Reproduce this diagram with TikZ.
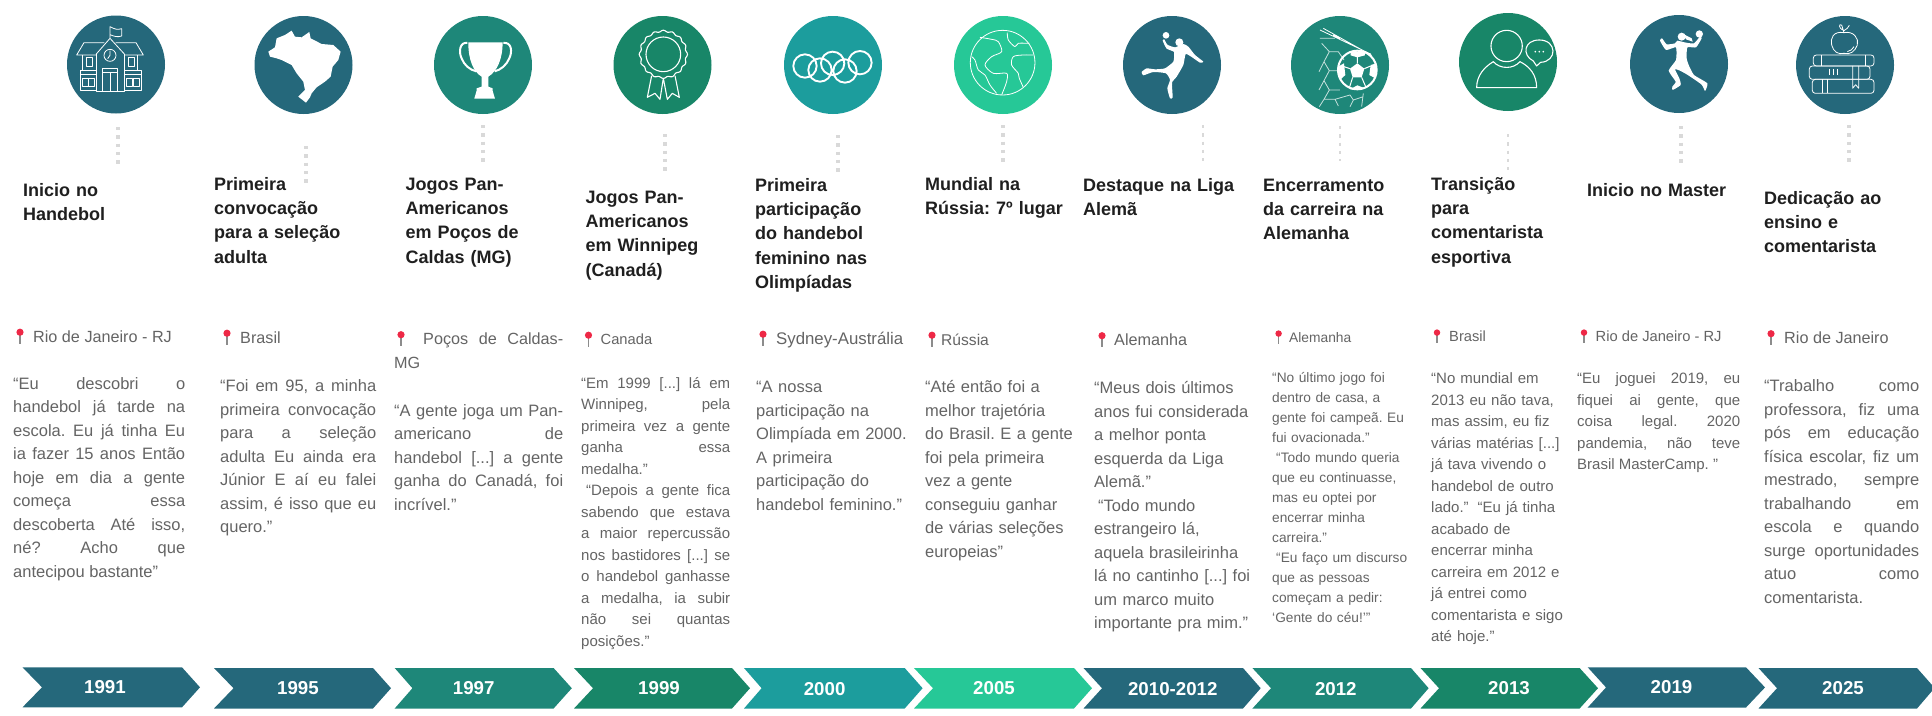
\documentclass[tikz,border=0pt]{standalone}
\usepackage{fontspec}
\setmainfont{Liberation Sans}
\frenchspacing
\usetikzlibrary{arrows,shapes,calc}
\definecolor{petrol}{RGB}{37,104,123}
\definecolor{teal1}{RGB}{30,135,121}
\definecolor{gruen1}{RGB}{24,134,104}
\definecolor{teal2}{RGB}{28,157,157}
\definecolor{mint}{RGB}{38,200,151}
\definecolor{bodygrey}{RGB}{100,100,100}
\definecolor{pinred}{RGB}{238,40,70}
\tikzset{
  disc/.style={circle,minimum size=98pt,inner sep=0pt},
  dotline/.style={draw=black!15,line width=3.4pt,dash pattern=on 3.4pt off 4.9pt},
  heading/.style={anchor=base west,inner sep=0pt,text width=170pt,align=left,text=black!88,font=\fontsize{18}{24.4}\selectfont\bfseries},
  place/.style={anchor=base west,inner sep=0pt,text=bodygrey,font=\fontsize{16.2}{24}\selectfont},
  placesm/.style={place,font=\fontsize{14.7}{24}\selectfont},
  placetiny/.style={place,font=\fontsize{13.8}{24}\selectfont},
  body/.style={anchor=base west,inner sep=0pt,text=bodygrey,font=\fontsize{16.5}{23.5}\selectfont,execute at begin node={\sloppy\hyphenpenalty=10000\relax}},
  bodysm/.style={body,font=\fontsize{15}{21.5}\selectfont},
  bodytiny/.style={body,font=\fontsize{13.7}{20}\selectfont},
  year/.style={inner sep=0pt,text=white,font=\fontsize{18.7}{20}\selectfont\bfseries},
  ln/.style={draw=white,line width=0.8pt,line join=round},
  mappin/.pic={\draw[black!45,line width=1.2pt] (0,-3) -- (0,7.5); \fill[pinred] (0,-3.8) circle (3.6);}
}
\begin{document}
\begin{tikzpicture}[x=1pt,y=-1pt]
\useasboundingbox (0,0) rectangle (1932,715);
%
% discs:
\node[disc,fill=petrol] (icon1991) at (116,64.5) {};
\node[disc,fill=petrol] (icon1995) at (303.5,65) {};
\node[disc,fill=teal1] (icon1997) at (483,65) {};
\node[disc,fill=gruen1] (icon1999) at (662.5,65) {};
\node[disc,fill=teal2] (icon2000) at (833,65) {};
\node[disc,fill=mint] (icon2005) at (1003,65) {};
\node[disc,fill=petrol] (icon2010) at (1172,65) {};
\node[disc,fill=teal1] (icon2012) at (1340,65) {};
\node[disc,fill=gruen1] (icon2013) at (1508,62) {};
\node[disc,fill=petrol] (icon2019) at (1679,64) {};
\node[disc,fill=petrol] (icon2025) at (1845,65) {};
%
% school, map, trophy:
\begin{scope}[shift={(60,10)},x=0.3333pt,y=-0.3333pt]
\draw[ln] (150,85) -- (150,50) .. controls (165,58) and (172,60) .. (185,56) -- (185,78) .. controls (172,82) and (165,80) .. (150,74);
\draw[ln] (108,133) -- (150,85) -- (194,133);
\draw[ln] (133,98) -- (72,98) -- (50,135) -- (108,135) (167,98) -- (228,98) -- (250,135) -- (194,135);
\draw[ln] (108,133) -- (108,243) -- (194,243) -- (194,133);
\draw[ln] (150,136) circle (18) (150,136) -- (150,122) (150,136) -- (143,146);
\draw[ln] (68,135) -- (68,180) (232,135) -- (232,180);
\draw[ln] (60,180) rectangle (108,240) (60,192) -- (108,192) (194,180) rectangle (243,240) (194,192) -- (243,192);
\draw[ln] (80,143) rectangle (97,170) (204,143) rectangle (222,170);
\draw[ln] (66,206) rectangle (84,230) (86,206) rectangle (104,230) (199,206) rectangle (217,230) (219,206) rectangle (237,230);
\draw[ln] (128,176) rectangle (172,243) (128,188) -- (172,188) (150,188) -- (150,243);
\fill[white,line join=round] (625,125) -- (645,112) -- (650,85) -- (675,75) -- (695,62) -- (705,80) -- (725,82) -- (748,66) -- (752,85) -- (785,102) -- (820,105) -- (842,125) -- (835,150) -- (818,170) -- (812,200) -- (795,215) -- (770,232) -- (755,250) -- (750,262) -- (738,278) -- (715,260) -- (735,240) -- (730,215) -- (710,190) -- (695,165) -- (665,150) -- (650,145) -- (630,140) -- cycle;
\fill[white] (1225,97) -- (1328,97) .. controls (1328,150) and (1310,185) .. (1285,200) -- (1285,230) -- (1298,235) -- (1298,242) -- (1305,266) -- (1243,266) -- (1250,242) -- (1250,235) -- (1265,230) -- (1265,200) .. controls (1240,185) and (1225,150) .. (1225,97) -- cycle;
\draw[white,line width=2pt] (1222,99) .. controls (1200,95) and (1195,125) .. (1205,145) .. controls (1212,165) and (1230,180) .. (1249,184);
\draw[white,line width=2pt] (1330,99) .. controls (1355,95) and (1358,125) .. (1348,145) .. controls (1340,165) and (1322,180) .. (1304,184);
\end{scope}
%
% rosette, rings, globe:
\begin{scope}[shift={(610,10)},x=0.3333pt,y=-0.3333pt]
\draw[white,line width=1.1pt] plot[smooth,domain=0:360,samples=97] ({160+(70+2.5*cos(16*\x))*cos(\x)},{133+(70+2.5*cos(16*\x))*sin(\x)});
\draw[white,line width=1.1pt] (160,133) circle (52);
\draw[white,line width=1.1pt,line join=round] (125,197) -- (112,262) -- (135,250) -- (150,268) -- (160,205) -- (172,268) -- (187,250) -- (208,262) -- (195,197);
\draw[white,line width=1.9pt] (585,168) circle (35) (668,160) circle (35) (750,158) circle (35) (630,180) circle (35) (705,183) circle (35);
\draw[ln] (1178,158) circle (97);
\draw[ln] plot[smooth] coordinates {(1110,82) (1145,88) (1165,95) (1175,125) (1145,140) (1125,165) (1150,190) (1190,190) (1190,215) (1175,255)};
\draw[ln] plot[smooth] coordinates {(1085,140) (1095,150) (1105,180) (1125,195) (1140,225) (1160,250)};
\draw[ln] plot[smooth] coordinates {(1192,68) (1195,90) (1215,110) (1225,100) (1258,100)};
\draw[ln] plot[smooth] coordinates {(1270,135) (1240,135) (1210,140) (1205,165) (1225,190) (1228,205) (1240,232)};
\end{scope}
%
% jumper, ball and net, speaker:
\begin{scope}[shift={(1120,10)},x=0.3333pt,y=-0.3333pt]
\fill[white] (138,76) circle (10) (178,97) circle (12);
\fill[white,line join=round] plot[smooth cycle,tension=0.3] coordinates {(133,88) (142,104) (165,112) (190,102) (205,110) (225,135) (250,155) (240,158) (215,141) (197,132) (190,165) (170,200) (156,218) (158,262) (150,265) (142,235) (150,210) (138,190) (100,186) (70,196) (65,186) (80,175) (105,178) (135,175) (160,155) (162,126) (140,116) (128,92)};
\begin{scope}[opacity=0.75]
\draw[white,line width=0.8pt,line join=round] (605,100) -- (628,125) -- (612,155) -- (628,182) -- (612,212) -- (628,240) -- (612,268) -- (645,268) -- (655,288) (628,125) -- (655,125) -- (672,150) (612,155) -- (597,185) (628,182) -- (660,182) (628,240) -- (660,240) (612,212) -- (597,240) (612,268) -- (598,290) (645,268) -- (690,255) -- (700,270) -- (690,290) (730,250) -- (725,290) (700,270) -- (730,260) (600,85) -- (645,85);
\end{scope}
\draw[white,line width=0.8pt] (600,60) -- (752,132) (610,55) -- (755,136) (640,75) -- (660,85);
\draw[white,line width=2pt] (712,180) circle (58);
\fill[white] (712,160) -- (733,176) -- (725,202) -- (698,202) -- (690,176) -- cycle;
\fill[white] (692,124) -- (735,124) -- (735,136) -- (712,142) -- (692,136) -- cycle (654,170) -- (672,160) -- (676,195) -- (660,210) -- cycle (770,160) -- (752,165) -- (748,195) -- (766,205) -- cycle (690,238) -- (712,226) -- (735,235) -- (712,240) -- cycle;
\draw[white,line width=1pt] (712,160) -- (712,140) (733,176) -- (752,168) (725,202) -- (738,232) (698,202) -- (688,234) (690,176) -- (672,170);
\draw[white,line width=1.1pt] (1160,108) circle (47);
\draw[white,line width=1.1pt,line join=round] (1070,233) .. controls (1070,195) and (1095,170) .. (1120,155) .. controls (1140,178) and (1180,178) .. (1200,155) .. controls (1230,170) and (1250,195) .. (1250,233) -- cycle;
\draw[white,line width=1.1pt,line join=round] (1240,153) .. controls (1205,135) and (1212,90) .. (1258,90) .. controls (1312,90) and (1312,155) .. (1262,157) -- (1250,168) -- cycle;
\fill[white] (1246,125) circle (2.8) (1258,125) circle (2.8) (1270,125) circle (2.8);
\end{scope}
%
% runner, apple and books:
\begin{scope}[shift={(1620,10)},x=0.3333pt,y=-0.3333pt]
\fill[white] (238,72) circle (11) (185,80) circle (12);
\fill[white,line join=round] (190,72) -- (215,85) -- (218,95) -- (198,88) -- cycle;
\fill[white,line join=round] plot[smooth cycle,tension=0.3] coordinates {(172,92) (198,98) (222,100) (240,80) (245,85) (228,112) (202,112) (200,145) (206,165) (222,195) (262,220) (255,243) (245,224) (205,196) (180,182) (165,178) (178,205) (182,225) (158,240) (157,230) (167,215) (146,182) (168,150) (168,112) (138,120) (120,92) (126,85) (140,103) (165,100)};
\draw[ln] (672,68) .. controls (640,62) and (630,85) .. (635,105) .. controls (640,125) and (655,135) .. (672,130) .. controls (690,135) and (705,125) .. (712,105) .. controls (718,85) and (700,62) .. (672,68) -- cycle;
\draw[ln] (672,68) -- (665,45) (665,45) .. controls (655,40) and (657,55) .. (668,60) (672,62) .. controls (680,58) and (685,52) .. (688,46);
\draw[ln] (682,125) .. controls (692,122) and (698,118) .. (702,110);
\draw[ln,rounded corners=3pt] (670,135) -- (580,135) -- (580,168) -- (762,168) -- (762,135) -- (670,135);
\draw[ln,rounded corners=3pt] (650,168) -- (568,168) -- (568,208) -- (750,208) -- (750,168) -- (650,168);
\draw[ln,rounded corners=3pt] (650,208) -- (577,208) -- (577,250) -- (762,250) -- (762,208) -- (650,208);
\draw[ln] (605,135) -- (605,168) (735,135) -- (735,168) (607,208) -- (607,250) (622,208) -- (622,250) (627,176) -- (627,196) (640,176) -- (640,196) (653,176) -- (653,196);
\draw[ln] (698,168) -- (698,235) -- (707,224) -- (716,235) -- (716,168);
\end{scope}
%
% dots:
\coordinate (dots1991a) at (118,127); \coordinate (dots1991b) at (118,164);
\coordinate (dots1995a) at (306,146); \coordinate (dots1995b) at (306,183);
\coordinate (dots1997a) at (483,125); \coordinate (dots1997b) at (483,163);
\coordinate (dots1999a) at (665,134); \coordinate (dots1999b) at (665,172);
\coordinate (dots2000a) at (838,135); \coordinate (dots2000b) at (838,172);
\coordinate (dots2005a) at (1003,125); \coordinate (dots2005b) at (1003,163);
\coordinate (dots2010a) at (1203,125); \coordinate (dots2010b) at (1203,161);
\coordinate (dots2012a) at (1340,126); \coordinate (dots2012b) at (1340,161);
\coordinate (dots2013a) at (1508,134); \coordinate (dots2013b) at (1508,170);
\coordinate (dots2019a) at (1681,126); \coordinate (dots2019b) at (1681,164);
\coordinate (dots2025a) at (1849,125); \coordinate (dots2025b) at (1849,163);
\draw[dotline] (dots1991a) -- (dots1991b);
\draw[dotline] (dots1995a) -- (dots1995b);
\draw[dotline] (dots1997a) -- (dots1997b);
\draw[dotline] (dots1999a) -- (dots1999b);
\draw[dotline] (dots2000a) -- (dots2000b);
\draw[dotline] (dots2005a) -- (dots2005b);
\draw[dotline,line width=2.8pt] (dots2010a) -- (dots2010b);
\draw[dotline,line width=2.8pt] (dots2012a) -- (dots2012b);
\draw[dotline,line width=2.8pt] (dots2013a) -- (dots2013b);
\draw[dotline] (dots2019a) -- (dots2019b);
\draw[dotline] (dots2025a) -- (dots2025b);
%
% headings:
\node[heading] (head1991) at (23,196) {Inicio no\\Handebol};
\node[heading] (head1995) at (214,190) {Primeira\\convocação\\para a seleção\\adulta};
\node[heading] (head1997) at (405.5,190) {Jogos Pan-\\Americanos\\em Poços de\\Caldas (MG)};
\node[heading] (head1999) at (585.4,203) {Jogos Pan-\\Americanos\\em Winnipeg\\(Canadá)};
\node[heading] (head2000) at (755,191) {Primeira\\participação\\do handebol\\feminino nas\\Olimpíadas};
\node[heading] (head2005) at (925,190) {Mundial na\\Rússia: 7º lugar};
\node[heading] (head2010) at (1083,191) {Destaque na Liga\\Alemã};
\node[heading] (head2012) at (1263,191) {Encerramento\\da carreira na\\Alemanha};
\node[heading] (head2013) at (1431,190) {Transição\\para\\comentarista\\esportiva};
\node[heading] (head2019) at (1587,196) {Inicio no Master};
\node[heading] (head2025) at (1764,204) {Dedicação ao\\ensino e\\comentarista};
%
% places:
\pic at (20,336) {mappin};
\node[place] (place1991) at (33,342) {Rio de Janeiro - RJ};
\pic at (227,337) {mappin};
\node[place] (place1995) at (240,343) {Brasil};
\pic at (401,338.5) {mappin};
\node[place,text width=169pt,align=justify,execute at begin node={\sloppy}] (place1997) at (394,344.5) {\hspace*{29pt}Poços de Caldas-\linebreak MG};
\pic at (588.5,339) {mappin};
\node[placesm] (place1999) at (600.5,344.5) {Canada};
\pic at (763,338) {mappin};
\node[place,font=\fontsize{16.8}{24}\selectfont] (place2000) at (776,344) {Sydney-Austrália};
\pic at (932,339) {mappin};
\node[place,font=\fontsize{15.6}{24}\selectfont] (place2005) at (941,345) {Rússia};
\pic at (1102,339.5) {mappin};
\node[place] (place2010) at (1114,345.5) {Alemanha};
\pic[scale=0.9] at (1278.6,337) {mappin};
\node[placetiny] (place2012) at (1289,342) {Alemanha};
\pic[scale=0.9] at (1437,336) {mappin};
\node[placesm] (place2013) at (1449,341.5) {Brasil};
\pic[scale=0.9] at (1584,336) {mappin};
\node[placesm] (place2019) at (1595.5,341.5) {Rio de Janeiro - RJ};
\pic at (1771,337.5) {mappin};
\node[place] (place2025) at (1784,343.5) {Rio de Janeiro};
%
% quotes:
\node[body,text width=172pt,align=justify] (text1991) at (13,389) {“Eu descobri o\linebreak handebol já tarde na\linebreak escola. Eu já tinha Eu\linebreak ia fazer 15 anos Então\linebreak hoje em dia a gente\linebreak começa essa\linebreak descoberta Até isso,\linebreak né? Acho que\linebreak antecipou bastante”};
\node[body,text width=156pt,align=justify] (text1995) at (220,391.5) {“Foi em 95, a minha\linebreak primeira convocação\linebreak para a seleção\linebreak adulta Eu ainda era\linebreak Júnior E aí eu falei\linebreak assim, é isso que eu\linebreak quero.”};
\node[body,text width=169pt,align=justify] (text1997) at (394,416) {“A gente joga um Pan-\linebreak americano de\linebreak handebol [...] a gente\linebreak ganha do Canadá, foi\linebreak incrível.”};
\node[bodysm,text width=149pt,align=justify] (text1999) at (581,388) {“Em 1999 [...] lá em\linebreak Winnipeg, pela\linebreak primeira vez a gente\linebreak ganha essa\linebreak medalha.”\\\hspace*{5pt}“Depois a gente fica\linebreak sabendo que estava\linebreak a maior repercussão\linebreak nos bastidores [...] se\linebreak o handebol ganhasse\linebreak a medalha, ia subir\linebreak não sei quantas\linebreak posições.”};
\node[body,text width=170pt,align=left] (text2000) at (756,392.5) {“A nossa\\participação na\\Olimpíada em 2000.\\A primeira\\participação do\\handebol feminino.”};
\node[body,text width=170pt,align=left] (text2005) at (925,392.5) {“Até então foi a\\melhor trajetória\\do Brasil. E a gente\\foi pela primeira\\vez a gente\\conseguiu ganhar\\de várias seleções\\europeias”};
\node[body,text width=170pt,align=left] (text2010) at (1094,393.5) {“Meus dois últimos\\anos fui considerada\\a melhor ponta\\esquerda da Liga\\Alemã.”\\\hspace*{4pt}“Todo mundo\\estrangeiro lá,\\aquela brasileirinha\\lá no cantinho [...] foi\\um marco muito\\importante pra mim.”};
\node[bodytiny,text width=150pt,align=left] (text2012) at (1272,382.5) {“No último jogo foi\\dentro de casa, a\\gente foi campeã. Eu\\fui ovacionada.”\\\hspace*{4pt}“Todo mundo queria\\que eu continuasse,\\mas eu optei por\\encerrar minha\\carreira.”\\\hspace*{4pt}“Eu faço um discurso\\que as pessoas\\começam a pedir:\\‘Gente do céu!’”};
\node[bodysm,text width=150pt,align=left] (text2013) at (1431,383.5) {“No mundial em\\2013 eu não tava,\\mas assim, eu fiz\\várias matérias [...]\\já tava vivendo o\\handebol de outro\\lado.”\hspace*{4pt} “Eu já tinha\\acabado de\\encerrar minha\\carreira em 2012 e\\já entrei como\\comentarista e sigo\\até hoje.”};
\node[bodysm,text width=163pt,align=justify] (text2019) at (1577,383.5) {“Eu joguei 2019, eu\linebreak fiquei ai gente, que\linebreak coisa legal. 2020\linebreak pandemia, não teve\linebreak Brasil MasterCamp. ”};
\node[body,text width=155pt,align=justify] (text2025) at (1764,391.5) {“Trabalho como\linebreak professora, fiz uma\linebreak pós em educação\linebreak física escolar, fiz um\linebreak mestrado, sempre\linebreak trabalhando em\linebreak escola e quando\linebreak surge oportunidades\linebreak atuo como\linebreak comentarista.};
%
% path:
\fill[petrol] (22.5,667.3) -- (182,667.3) -- (200,687.3) -- (182,707.3) -- (22.5,707.3) -- (42,687.3) -- cycle;
\node[year] (year1991) at (105,686.7) {1991};
%
% path:
\fill[petrol] (214,668) -- (373,668) -- (391,688.2) -- (373,708.5) -- (214,708.5) -- (233.5,688.2) -- cycle;
\node[year] (year1995) at (298,688) {1995};
%
% path:
\fill[teal1] (394.7,668) -- (553.6,668) -- (571.8,688.2) -- (553.6,708.5) -- (394.7,708.5) -- (412.4,688.2) -- cycle;
\node[year] (year1997) at (473.7,688) {1997};
%
% path:
\fill[gruen1] (574,668) -- (732,668) -- (750,688.2) -- (732,708.5) -- (574,708.5) -- (593,688.2) -- cycle;
\node[year] (year1999) at (659,688) {1999};
%
% path:
\fill[teal2] (744,668) -- (904.7,668) -- (922.6,688.2) -- (904.7,708.5) -- (744,708.5) -- (761.6,688.2) -- cycle;
\node[year] (year2000) at (824.6,689) {2000};
%
% path:
\fill[mint] (914,668) -- (1074,668) -- (1092,688.2) -- (1074,708.5) -- (914,708.5) -- (933,688.2) -- cycle;
\node[year] (year2005) at (994,688) {2005};
%
% path:
\fill[petrol] (1083.5,668) -- (1243,668) -- (1260.7,688.2) -- (1243,708.5) -- (1083.5,708.5) -- (1102,688.2) -- cycle;
\node[year] (year2010) at (1172.8,689) {2010-2012};
%
% path:
\fill[teal1] (1252.4,668) -- (1411,668) -- (1428.6,688.2) -- (1411,708.5) -- (1252.4,708.5) -- (1271,688.2) -- cycle;
\node[year] (year2012) at (1335.8,689) {2012};
%
% path:
\fill[gruen1] (1420.5,668) -- (1579.6,668) -- (1598,688.2) -- (1579.6,708.5) -- (1420.5,708.5) -- (1439,688.2) -- cycle;
\node[year] (year2013) at (1509,688) {2013};
%
% path:
\fill[petrol] (1587.7,667.3) -- (1746,667.3) -- (1765,687.4) -- (1746,707.5) -- (1587.7,707.5) -- (1606,687.4) -- cycle;
\node[year] (year2019) at (1671.5,687) {2019};
%
% path:
\fill[petrol] (1758.5,668) -- (1917,668) -- (1932,685) -- (1932,691) -- (1917,708.5) -- (1758.5,708.5) -- (1777,688.2) -- cycle;
\node[year] (year2025) at (1843,688) {2025};
\end{tikzpicture}
\end{document}
